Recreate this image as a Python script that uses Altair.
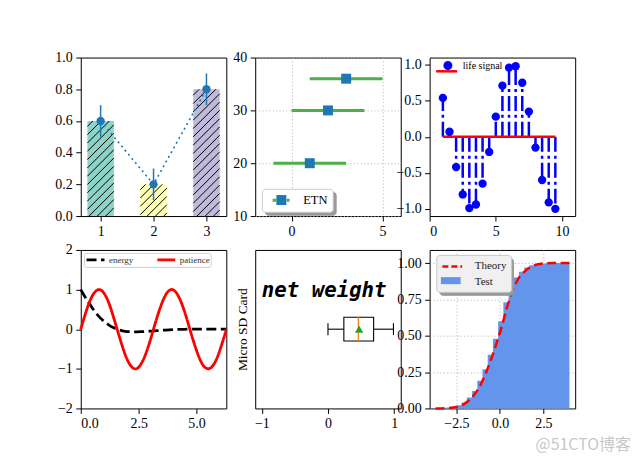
import math
import altair as alt
import pandas as pd

FONT = "Liberation Serif"
W, H = 146, 159

# ---------------- data ----------------
bar_pos = [1, 2, 3]
bar_vals = [0.6, 0.2, 0.8]
bar_errs = [0.1, 0.1, 0.1]
bar_colors = ["#8dd3c7", "#ffffb3", "#bebada"]

eb_x = [1, 2, 3]
eb_y = [20, 30, 36]
eb_xerr = [2, 2, 2]

stem_x = [1.0, 1.5, 2.0, 2.5, 3.0, 3.5, 4.0, 4.5, 5.0, 5.5, 6.0, 6.5, 7.0, 7.5, 8.0, 8.5, 9.0, 9.5]
stem_y = [0.54, 0.07, -0.42, -0.80, -0.99, -0.94, -0.65, -0.21, 0.28, 0.71, 0.96, 0.98,
          0.75, 0.35, -0.15, -0.60, -0.91, -1.00]

wave_x = [0.0, 0.2, 0.4, 0.6, 0.8, 1.0, 1.2, 1.4, 1.6, 1.8, 2.0, 2.2, 2.4, 2.6, 2.8, 3.0, 3.2,
          3.4, 3.6, 3.8, 4.0, 4.2, 4.4, 4.6, 4.8, 5.0, 5.2, 5.4, 5.6, 5.8, 6.0, 6.2, 6.28]
energy = [1.00, 0.80, 0.62, 0.45, 0.31, 0.20, 0.11, 0.04, -0.01, -0.04, -0.06, -0.065, -0.067,
          -0.064, -0.057, -0.049, -0.041, -0.032, -0.025, -0.018, -0.012, -0.007, -0.004, -0.001,
          0.001, 0.002, 0.003, 0.003, 0.003, 0.003, 0.002, 0.002, 0.002]
patience = [0.00, 0.39, 0.72, 0.93, 1.00, 0.91, 0.68, 0.33, -0.06, -0.44, -0.76, -0.95, -1.00,
            -0.88, -0.63, -0.28, 0.12, 0.49, 0.79, 0.97, 0.99, 0.85, 0.58, 0.22, -0.18, -0.54,
            -0.83, -0.98, -0.98, -0.83, -0.54, -0.17, 0.00]

box_whislo, box_q1, box_med, box_q3, box_whishi, box_mean = 0.0, 0.24, 0.46, 0.69, 0.99, 0.47
box_label = "net weight"
box_ylabel = "Micro SD Card"

cdf_x = [-3.7, -3.0, -2.5, -2.0, -1.5, -1.0, -0.5, 0.0, 0.5, 1.0, 1.5, 2.0, 2.5, 3.0, 4.0]
cdf_theory = [0.0, 0.003, 0.01, 0.035, 0.09, 0.19, 0.34, 0.52, 0.73, 0.88, 0.95, 0.985, 0.997, 1.0, 1.0]
hist_edges = [-3.7, -3.4, -3.1, -2.8, -2.5, -2.2, -1.9, -1.6, -1.3, -1.0, -0.7, -0.4, -0.1, 0.2,
              0.5, 0.8, 1.1, 1.4, 1.7, 2.0, 2.3, 2.6, 2.9, 3.2, 3.5, 3.8, 4.0]
hist_cdf = [0.002, 0.003, 0.006, 0.012, 0.022, 0.04, 0.075, 0.12, 0.19, 0.27, 0.37, 0.48, 0.60,
            0.73, 0.83, 0.90, 0.94, 0.97, 0.985, 0.993, 0.997, 0.999, 1.0, 1.0, 1.0, 1.0]

watermark = "@51CTO博客"

GRID = dict(grid=True, gridDash=[1.2, 2.2], gridColor="#b0b0b0", gridWidth=0.8)
SHADOW = "#9a9a9a"


def ax(values, fmt, **kw):
    return alt.Axis(values=values, format=fmt, title=None, labelOverlap=False,
                    tickCount=50, **kw)


# ---------------- panel 1: hatched bars ----------------
x1_dom = [0.625, 3.375]
bar_w = 0.5
bars_df = pd.DataFrame({"pos": bar_pos, "val": bar_vals, "err": bar_errs, "color": bar_colors})
xs = W / (x1_dom[1] - x1_dom[0])
ys = H / 1.0
sp = 8.33
hatch_rows = []
for p, v in zip(bar_pos, bar_vals):
    X0 = (p - bar_w / 2 - x1_dom[0]) * xs
    X1 = (p + bar_w / 2 - x1_dom[0]) * xs
    Y0, Y1 = 0.0, v * ys
    k = math.ceil((Y0 - X1) / sp)
    while k * sp <= Y1 - X0:
        c = k * sp
        xa, xb = max(X0, Y0 - c), min(X1, Y1 - c)
        if xb > xa:
            hatch_rows.append({"hx": xa / xs + x1_dom[0], "hy": (xa + c) / ys,
                               "hx2": xb / xs + x1_dom[0], "hy2": (xb + c) / ys})
        k += 1
hatch_df = pd.DataFrame(hatch_rows)

xsc1 = alt.Scale(domain=x1_dom, nice=False, zero=False)
ysc1 = alt.Scale(domain=[0, 1], nice=False)
b1 = alt.Chart(bars_df).transform_calculate(
    x0=f"datum.pos - {bar_w/2}", x1=f"datum.pos + {bar_w/2}",
    lo="datum.val - datum.err", hi="datum.val + datum.err")
p1 = alt.layer(
    b1.mark_rect().encode(
        x=alt.X("x0:Q", scale=xsc1, axis=ax(bar_pos, "d")),
        x2="x1:Q",
        y=alt.Y("val:Q", scale=ysc1, axis=ax([0, 0.2, 0.4, 0.6, 0.8, 1.0], ".1f")),
        y2=alt.datum(0),
        color=alt.Color("color:N", scale=None)),
    alt.Chart(hatch_df).mark_rule(color="black", strokeWidth=1).encode(
        x=alt.X("hx:Q", title=None), y=alt.Y("hy:Q", title=None), x2="hx2:Q", y2="hy2:Q"),
    b1.mark_rule(color="#1f77b4", strokeWidth=1.5).encode(
        x=alt.X("pos:Q", title=None), y=alt.Y("lo:Q", title=None), y2="hi:Q"),
    b1.mark_line(color="#1f77b4", strokeWidth=1.6, strokeDash=[2, 3.4]).encode(
        x=alt.X("pos:Q", title=None), y=alt.Y("val:Q", title=None)),
    b1.mark_circle(color="#1f77b4", size=70, opacity=1).encode(
        x=alt.X("pos:Q", title=None), y=alt.Y("val:Q", title=None)),
).properties(width=W, height=H)

# ---------------- panel 2: horizontal error bars ----------------
eb_df = pd.DataFrame({"x": eb_x, "y": eb_y, "err": eb_xerr, "lbl": "ETN", "lbl2": "ETNb",
                      "lbl3": "ETNs"})
xsc2 = alt.Scale(domain=[-2, 6], nice=False, zero=False)
ysc2 = alt.Scale(domain=[10, 40], nice=False, zero=False)
L2 = dict(orient="none", title=None, symbolSize=100, labelFont=FONT, labelFontSize=12.5, padding=5)
legS2 = alt.Legend(legendX=9.7, legendY=134.7, symbolType="square", symbolOpacity=0,
                   labelExpr="''", labelOffset=48.3, fillColor=SHADOW, strokeColor=SHADOW,
                   cornerRadius=3, zindex=1, **L2)
legA2 = alt.Legend(legendX=6.7, legendY=131.7, symbolType="M0.66,-1H2.66V1H0.66Z",
                   symbolStrokeWidth=0, symbolOpacity=1, labelColor="black", labelOffset=24,
                   fillColor="white", strokeColor="#cccccc", cornerRadius=3, zindex=2, **L2)
legB2 = alt.Legend(legendX=6.7, legendY=131.7, symbolType="M-0.14,0H0.66M2.66,0H3.26",
                   symbolStrokeWidth=3, symbolFillColor="transparent", labelExpr="''",
                   labelOffset=24, zindex=3, **L2)
b2 = alt.Chart(eb_df).transform_calculate(lo="datum.x - datum.err", hi="datum.x + datum.err")
p2 = alt.layer(
    b2.mark_rule(strokeWidth=3).encode(
        x=alt.X("lo:Q", scale=xsc2, axis=ax([0, 5], "d", **GRID)),
        x2="hi:Q",
        y=alt.Y("y:Q", scale=ysc2, axis=ax([10, 20, 30, 40], "d", **GRID)),
        stroke=alt.Stroke("lbl2:N", scale=alt.Scale(domain=["ETNb"], range=["#4daf4a"]), legend=legB2)),
    b2.mark_point(opacity=0).encode(
        x=alt.X("x:Q", title=None), y=alt.Y("y:Q", title=None),
        shape=alt.Shape("lbl3:N", scale=alt.Scale(domain=["ETNs"], range=["square"]), legend=legS2)),
    b2.mark_point(shape="square", filled=True, size=100, opacity=1).encode(
        x=alt.X("x:Q", title=None), y=alt.Y("y:Q", title=None),
        color=alt.Color("lbl:N", scale=alt.Scale(domain=["ETN"], range=["#1f77b4"]), legend=legA2)),
).properties(width=W, height=H)

# ---------------- panel 3: stem plot ----------------
stem_df = pd.DataFrame({"x": stem_x, "y": stem_y, "lbl": "life signal"})
base_df = pd.DataFrame({"x": [min(stem_x)], "x2": [max(stem_x)], "y": [0.0], "lbl2": ["base"]})
xsc3 = alt.Scale(domain=[0, 11], nice=False, zero=False)
ysc3 = alt.Scale(domain=[-1.1, 1.1], nice=False, zero=False)
legA3 = alt.Legend(orient="none", legendX=5, legendY=3, title=None,
                   symbolType="M0.76,0A0.9,0.9 0 1,0 2.56,0A0.9,0.9 0 1,0 0.76,0Z",
                   symbolSize=100, symbolStrokeWidth=0, symbolOpacity=1, labelFont=FONT,
                   labelFontSize=10, labelColor="black", labelOffset=18.3, padding=0, zindex=2)
legB3 = alt.Legend(orient="none", legendX=5, legendY=7.3, title=None, symbolType="M-1,0H3.2",
                   symbolSize=100, symbolStrokeWidth=2.5, symbolFillColor="transparent",
                   labelExpr="''", labelFontSize=10, labelOffset=18.3, padding=0, zindex=1)
p3 = alt.layer(
    alt.Chart(stem_df).transform_calculate(b="0").mark_rule(
        color="blue", strokeWidth=2.5, strokeDash=[15, 4, 3, 4]).encode(
        x=alt.X("x:Q", scale=xsc3, axis=ax([0, 5, 10], "d")),
        y=alt.Y("b:Q", scale=ysc3, axis=ax([-1.0, -0.5, 0.0, 0.5, 1.0], ".1f")),
        y2="y:Q"),
    alt.Chart(base_df).mark_rule(strokeWidth=2.5).encode(
        x=alt.X("x:Q", title=None), x2="x2:Q", y=alt.Y("y:Q", title=None),
        stroke=alt.Stroke("lbl2:N", scale=alt.Scale(domain=["base"], range=["red"]), legend=legB3)),
    alt.Chart(stem_df).mark_point(shape="circle", filled=True, size=70, opacity=1).encode(
        x=alt.X("x:Q", title=None), y=alt.Y("y:Q", title=None),
        color=alt.Color("lbl:N", scale=alt.Scale(domain=["life signal"], range=["blue"]), legend=legA3)),
).properties(width=W, height=H)

# ---------------- panel 4: lines ----------------
wave_df = pd.concat([
    pd.DataFrame({"x": wave_x, "y": energy, "s": "energy"}),
    pd.DataFrame({"x": wave_x, "y": patience, "s": "patience"}),
])
xsc4 = alt.Scale(domain=[0, 6.2832], nice=False, zero=False)
ysc4 = alt.Scale(domain=[-2, 2], nice=False, zero=False)
leg4 = alt.Legend(orient="none", legendX=3.3, legendY=3, direction="horizontal", columns=2,
                  columnPadding=17, title=None, symbolType="M-1,0H3.5", symbolSize=64,
                  symbolStrokeWidth=2.8, labelFont=FONT, labelFontSize=9, labelColor="#333333",
                  labelOffset=13, padding=1, fillColor="white", strokeColor="#d0d0d0",
                  cornerRadius=2)
col4 = alt.Color("s:N", scale=alt.Scale(domain=["energy", "patience"], range=["black", "red"]), legend=leg4)
dash4 = alt.StrokeDash("s:N", scale=alt.Scale(domain=["energy", "patience"], range=[[10, 4.5], [1, 0]]), legend=leg4)
b4 = alt.Chart(wave_df)
p4 = alt.layer(
    b4.transform_filter("datum.s == 'energy'").mark_line(strokeWidth=2.8, interpolate="monotone").encode(
        x=alt.X("x:Q", scale=xsc4, axis=ax([0, 2.5, 5.0], ".1f")),
        y=alt.Y("y:Q", scale=ysc4, axis=ax([-2, -1, 0, 1, 2], "d")),
        color=col4, strokeDash=dash4),
    b4.transform_filter("datum.s == 'patience'").mark_line(strokeWidth=2.8, interpolate="natural").encode(
        x=alt.X("x:Q", title=None), y=alt.Y("y:Q", title=None), color=col4, strokeDash=dash4),
).properties(width=W, height=H)

# ---------------- panel 5: box plot ----------------
box_y = 1.0
bh = 0.075
ch = 0.0375
whisk_df = pd.DataFrame({"a": [box_whislo, box_q3], "b": [box_q1, box_whishi], "y": [box_y, box_y]})
cap_df = pd.DataFrame({"x": [box_whislo, box_whishi], "y0": [box_y - ch] * 2, "y1": [box_y + ch] * 2})
box_df = pd.DataFrame({"q1": [box_q1], "q3": [box_q3], "med": [box_med], "mean": [box_mean],
                       "y": [box_y], "y0": [box_y - bh], "y1": [box_y + bh]})
txt_df = pd.DataFrame({"x": [-1.0], "y": [1.2], "t": [box_label]})
xsc5 = alt.Scale(domain=[-1.1, 1.1], nice=False, zero=False)
ysc5 = alt.Scale(domain=[0.5, 1.5], nice=False, zero=False)
y5axis = alt.Axis(title=box_ylabel, labels=False, ticks=False, titleFont=FONT, titleFontSize=13.5,
                  titleFontWeight="normal", titleColor="black", titlePadding=6)


def y5(f):
    return alt.Y(f, scale=ysc5, axis=y5axis, title=box_ylabel)


p5 = alt.layer(
    alt.Chart(whisk_df).mark_rule(color="black", strokeWidth=1.1).encode(
        x=alt.X("a:Q", scale=xsc5, axis=ax([-1, 0, 1], "d")), x2="b:Q", y=y5("y:Q")),
    alt.Chart(cap_df).mark_rule(color="black", strokeWidth=1.1).encode(
        x=alt.X("x:Q", title=None), y=y5("y0:Q"), y2="y1:Q"),
    alt.Chart(box_df).mark_rect(fill="white", stroke="black", strokeWidth=1.1).encode(
        x=alt.X("q1:Q", title=None), x2="q3:Q", y=y5("y0:Q"), y2="y1:Q"),
    alt.Chart(box_df).mark_rule(color="#ff7f0e", strokeWidth=1.4).encode(
        x=alt.X("med:Q", title=None), y=y5("y0:Q"), y2="y1:Q"),
    alt.Chart(box_df).mark_point(shape="triangle-up", filled=True, size=70, color="#2ca02c", opacity=1).encode(
        x=alt.X("mean:Q", title=None), y=y5("y:Q")),
    alt.Chart(txt_df).mark_text(align="left", baseline="alphabetic", font="DejaVu Sans Mono",
                                fontStyle="italic", fontWeight="bold", fontSize=20.8, color="black").encode(
        x=alt.X("x:Q", title=None), y=y5("y:Q"), text="t:N"),
).properties(width=W, height=H)

# ---------------- panel 6: cumulative histogram ----------------
theory_df = pd.DataFrame({"x": cdf_x, "y": cdf_theory, "name": "Theory", "name3": "Theory3"})
hist_df = pd.DataFrame({"x": hist_edges, "y": hist_cdf + [hist_cdf[-1]], "name2": "Test2"})
xsc6 = alt.Scale(domain=[-4.04, 4.33], nice=False, zero=False)
ysc6 = alt.Scale(domain=[0, 1.09], nice=False, zero=False)
L6 = dict(orient="none", title=None, symbolSize=121, labelFont=FONT, labelFontSize=11,
          rowPadding=3.7, padding=4.6)
legS6 = alt.Legend(legendX=9.7, legendY=8, symbolType="circle", symbolOpacity=0,
                   labelExpr="''", labelOffset=51.8,
                   fillColor=SHADOW, strokeColor=SHADOW, cornerRadius=3, zindex=1, **L6)
legF6 = alt.Legend(legendX=6.7, legendY=5, symbolType="M-1,0H2.6", symbolDash=[6, 3],
                   symbolStrokeWidth=2.5, symbolFillColor="transparent", labelColor="#222222",
                   labelOffset=20, fillColor="#f0f0f0", strokeColor="#c8c8c8", cornerRadius=3,
                   zindex=2, **L6)
legG6 = alt.Legend(legendX=6.7, legendY=5, symbolType="M-1,-0.64H2.6V0.64H-1Z",
                   symbolStrokeWidth=0, symbolOpacity=1, labelExpr="''", labelOffset=20,
                   zindex=3, **L6)
p6 = alt.layer(
    alt.Chart(hist_df).mark_area(interpolate="step-after", opacity=1).encode(
        x=alt.X("x:Q", scale=xsc6, axis=ax([-2.5, 0, 2.5], ".1f", **GRID)),
        y=alt.Y("y:Q", scale=ysc6, axis=ax([0, 0.25, 0.5, 0.75, 1.0], ".2f", **GRID)),
        fill=alt.Fill("name2:N", scale=alt.Scale(domain=["Theory2", "Test2"],
                                                 range=["transparent", "#6495ed"]), legend=legG6)),
    alt.Chart(theory_df).mark_point(opacity=0).encode(
        x=alt.X("x:Q", title=None), y=alt.Y("y:Q", title=None),
        shape=alt.Shape("name3:N", scale=alt.Scale(domain=["Theory3", "Test3"],
                                                   range=["circle", "circle"]), legend=legS6)),
    alt.Chart(theory_df).mark_line(strokeWidth=2.5, strokeDash=[9, 4.5], interpolate="monotone").encode(
        x=alt.X("x:Q", title=None), y=alt.Y("y:Q", title=None),
        stroke=alt.Stroke("name:N", scale=alt.Scale(domain=["Theory", "Test"],
                                                    range=["red", "transparent"]), legend=legF6)),
).properties(width=W, height=H, title=alt.Title(
    watermark, orient="bottom", anchor="end", font="Noto Sans CJK SC", fontSize=16,
    fontWeight="normal", color="#c8c8c8", dx=56, offset=6))

chart = alt.concat(p1, p2, p3, p4, p5, p6, columns=3, spacing={"row": 34, "column": 29},
                   bounds="flush").resolve_scale(
    color="independent", stroke="independent", strokeDash="independent", fill="independent",
    shape="independent"
).properties(padding={"left": 46, "top": 41, "right": 0, "bottom": 0}).configure_view(
    stroke="black", strokeWidth=1
).configure_axis(
    labelFont=FONT, labelFontSize=14, labelColor="black", tickColor="black", tickSize=5,
    tickWidth=1, domain=False, grid=False, labelPadding=3.5, labelOverlap=False
).configure_legend(labelFont=FONT)

chart.save("out.html", embed_options={"renderer": "svg", "actions": False})
